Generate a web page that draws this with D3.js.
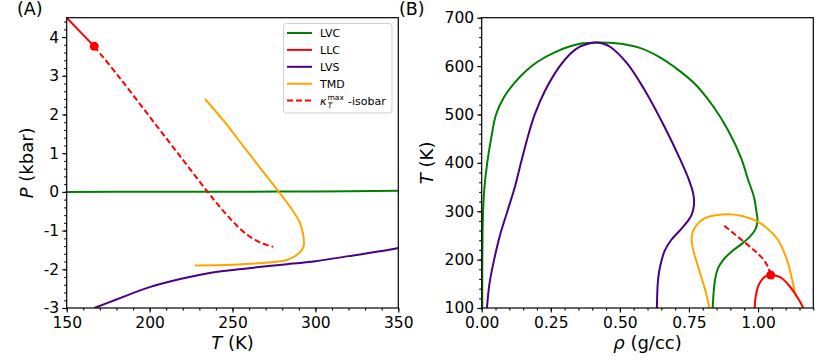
<!DOCTYPE html>
<html><head><meta charset="utf-8">
<script src="https://cdn.jsdelivr.net/npm/d3@7"></script>
<style>
body{margin:0;background:#fff;}
text{font-family:"DejaVu Sans",sans-serif;fill:#000;}
</style></head>
<body><svg id="c" width="830" height="363"></svg>
<script>
// ---------- Panel A data (T in K, P in kbar) ----------
const aLVC = [[150,0.0],[200,0.002],[250,0.005],[300,0.012],[350,0.028]];
const aLLC = [[150,4.5],[166.6,3.76]];
const aLVS = [[166.7,-3.0],[180,-2.78],[200,-2.46],[218.5,-2.25],[238,-2.08],[260,-1.97],[280,-1.88],[300,-1.79],[320,-1.66],[340,-1.53],[350,-1.45]];
const aTMD = [[233.4,2.40],[245,1.82],[256.5,1.18],[267,0.60],[277.6,0.02],[285,-0.40],[290.7,-0.80],[292.8,-1.15],[292.8,-1.42],[289.7,-1.60],[282.7,-1.76],[270,-1.83],[250,-1.88],[227.4,-1.90]];
const aKappa = [[166.6,3.76],[181,3.0],[199,2.0],[217,1.0],[235,0.0],[243,-0.42],[250.5,-0.78],[258,-1.08],[265,-1.27],[270,-1.36],[274.6,-1.42]];
const aCrit = [166.6,3.76];
const aXTicks = [150,200,250,300,350];
const aYTicks = [-3,-2,-1,0,1,2,3,4];

// ---------- Panel B data (rho in g/cc, T in K) ----------
const bLVC = [[0.836,100],[0.839,130],[0.845,160],[0.855,182],[0.875,200],[0.905,217],[0.940,232],[0.970,247],[0.990,262],[0.998,280],[0.994,300],[0.985,330],[0.964,365],[0.939,410],[0.891,468],[0.840,515],[0.770,564],[0.700,597],[0.648,617],[0.580,636],[0.515,645],[0.460,648],[0.412,648.5],
  [0.365,647],[0.320,641],[0.262,628],[0.205,610],[0.160,590],[0.118,565],[0.080,535],[0.052,500],[0.034,450],[0.020,400],[0.010,350],[0.005,300],[0.003,250],[0.002,170],[0.002,100]];
const bLLC = [[0.988,100],[0.991,122],[1.0,144],[1.012,157],[1.024,164.5],[1.046,168],[1.065,166.5],[1.085,162],[1.11,148],[1.133,130.5],[1.15,115],[1.164,100]];
const bLVS = [[0.019,100],[0.028,150],[0.045,200],[0.066,250],[0.093,300],[0.120,350],[0.142,400],[0.165,450],[0.192,500],[0.230,550],[0.280,598],[0.320,625],[0.355,640],[0.385,646],[0.412,648.5],
  [0.440,646],[0.467,639],[0.527,605],[0.588,552],[0.661,475],[0.720,405],[0.750,365],[0.766,335],[0.768,312],[0.760,293],[0.745,279],[0.720,262],[0.685,240],[0.662,218],[0.650,196],[0.642,175],[0.637,150],[0.634,100]];
const bTMD = [[0.824,100],[0.810,135],[0.794,165],[0.778,195],[0.766,218],[0.760,240],[0.763,256],[0.776,270],[0.800,283],[0.830,290],[0.870,293.5],[0.903,293.5],[0.950,289],[1.0,278],[1.040,261],[1.073,240],[1.095,214],[1.109,192],[1.124,157],[1.137,123]];
const bKappa = [[0.878,270],[0.910,255],[0.951,236],[0.980,222],[1.0,212],[1.020,200],[1.035,186],[1.046,168]];
const bCrit = [1.046,168];
const bXTicks = [0,0.25,0.5,0.75,1.0];
const bYTicks = [100,200,300,400,500,600,700];

const legendItems = [
  {label:"LVC", color:"green", dash:null},
  {label:"LLC", color:"red", dash:null},
  {label:"LVS", color:"indigo", dash:null},
  {label:"TMD", color:"orange", dash:null},
  {label:"kappa", color:"red", dash:"6,3"}
];

const svg = d3.select("#c");
const yTop = 17.7, yBot = 308;

function drawPanel(opt){
  const g = svg.append("g");
  const x = d3.scaleLinear().domain(opt.xd).range([opt.x0, opt.x1]);
  const y = d3.scaleLinear().domain(opt.yd).range([yBot, yTop]);
  const cid = "clip"+opt.id;
  svg.append("clipPath").attr("id",cid).append("rect")
    .attr("x",opt.x0).attr("y",yTop).attr("width",opt.x1-opt.x0).attr("height",yBot-yTop);
  const plot = g.append("g").attr("clip-path",`url(#${cid})`);
  const line = d3.line().x(d=>x(d[0])).y(d=>y(d[1])).curve(d3.curveCatmullRom.alpha(0.5));
  opt.series.forEach(s=>{
    plot.append("path").attr("d",line(s.data)).attr("fill","none")
      .attr("stroke",s.color).attr("stroke-width",2)
      .attr("stroke-dasharray",s.dash||null);
  });
  plot.append("circle").attr("cx",x(opt.crit[0])).attr("cy",y(opt.crit[1])).attr("r",4.5).attr("fill","red");

  const xa = d3.axisBottom(x).tickValues(opt.xminor).tickSize(2.5).tickFormat("");
  const ya = d3.axisLeft(y).tickValues(opt.yminor).tickSize(2.5).tickFormat("");
  g.append("g").attr("transform",`translate(0,${yBot})`).call(xa);
  g.append("g").attr("transform",`translate(${opt.x0},0)`).call(ya);
  const xA = d3.axisBottom(x).tickValues(opt.xt).tickSize(4.5).tickPadding(4).tickFormat(opt.xf);
  const yA = d3.axisLeft(y).tickValues(opt.yt).tickSize(4.5).tickPadding(3).tickFormat(opt.yf);
  g.append("g").attr("transform",`translate(0,${yBot})`).call(xA);
  g.append("g").attr("transform",`translate(${opt.x0},0)`).call(yA);
  g.selectAll(".domain").remove();
  g.selectAll(".tick line").attr("stroke","#000").attr("stroke-width",1.1);
  g.selectAll(".tick text").attr("font-size","15.5px").attr("font-family","DejaVu Sans").attr("fill","#000");
  g.append("rect").attr("x",opt.x0).attr("y",yTop).attr("width",opt.x1-opt.x0).attr("height",yBot-yTop)
    .attr("fill","none").attr("stroke","#000").attr("stroke-width",1.2);
  g.append("text").attr("x",(opt.x0+opt.x1)/2).attr("y",349).attr("text-anchor","middle")
    .attr("font-size","18px").html(opt.xlabel);
  g.append("text").attr("transform",`translate(${opt.ylx},${(yTop+yBot)/2}) rotate(-90)`)
    .attr("text-anchor","middle").attr("font-size","18px").html(opt.ylabel);
  g.append("text").attr("x",opt.titleX).attr("y",15).attr("font-size","17.5px").text(opt.title);
  return {x,y,g};
}

const range = (a,b,s)=>d3.range(Math.round(a/s),Math.round(b/s)+1).map(i=>+(i*s).toFixed(4));

drawPanel({
  id:"A", x0:66.7, x1:398.3, xd:[150,350], yd:[-3,4.5],
  xt:aXTicks, yt:aYTicks, xminor:range(150,350,10), yminor:range(-3,4.4,0.2),
  xf:d=>d3.format("d")(d), yf:d=>String(d),
  series:[
    {data:aLVC,color:"green"},
    {data:aLVS,color:"indigo"},
    {data:aTMD,color:"orange"},
    {data:aKappa,color:"red",dash:"6,3"},
    {data:aLLC,color:"red"}
  ],
  crit:aCrit,
  xlabel:'<tspan font-style="italic">T</tspan> (K)',
  ylabel:'<tspan font-style="italic">P</tspan> (kbar)',
  ylx:33, title:"(A)", titleX:17
});

drawPanel({
  id:"B", x0:481.7, x1:813.3, xd:[0,1.2], yd:[100,700],
  xt:bXTicks, yt:bYTicks, xminor:range(0,1.2,0.05), yminor:range(100,700,20),
  xf:d3.format(".2f"), yf:d=>String(d),
  series:[
    {data:bLVC,color:"green"},
    {data:bLVS,color:"indigo"},
    {data:bTMD,color:"orange"},
    {data:bKappa,color:"red",dash:"6,3"},
    {data:bLLC,color:"red"}
  ],
  crit:bCrit,
  xlabel:'<tspan font-style="italic">ρ</tspan> (g/cc)',
  ylabel:'<tspan font-style="italic">T</tspan> (K)',
  ylx:433, title:"(B)", titleX:399
});

const lg = svg.append("g");
lg.append("rect").attr("x",283.5).attr("y",23.5).attr("width",108.5).attr("height",89.5).attr("rx",3)
  .attr("fill","white").attr("fill-opacity",0.8).attr("stroke","#d0d0d0").attr("stroke-width",1);
legendItems.forEach((d,i)=>{
  const yy = 33 + i*16.9;
  lg.append("line").attr("x1",287).attr("x2",312).attr("y1",yy).attr("y2",yy)
    .attr("stroke",d.color).attr("stroke-width",2).attr("stroke-dasharray",d.dash);
  const t = lg.append("text").attr("x",320).attr("y",yy+4).attr("font-size","11px");
  if(d.label==="kappa"){
    t.append("tspan").attr("font-style","italic").text("κ");
    t.append("tspan").attr("font-size","7.5px").attr("dy",-5).attr("dx",1).text("max");
    t.append("tspan").attr("font-size","7.5px").attr("font-style","italic").attr("dx",-16).attr("dy",8).text("T");
    t.append("tspan").attr("font-size","11px").attr("dy",-3).attr("dx",12).text(" -isobar");
  } else t.text(d.label);
});
</script></body></html>
